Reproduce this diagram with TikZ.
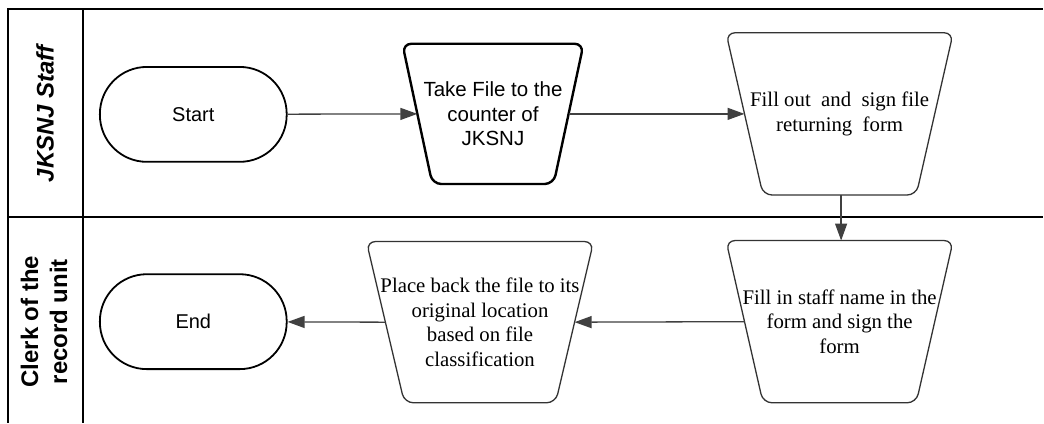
\documentclass[tikz,border=0pt]{standalone}
\usepackage{fontspec}
\setmainfont{Liberation Serif}
\setsansfont{Liberation Sans}
\usetikzlibrary{arrows.meta}

% outline of a downward-narrowing process box: node name, inset of the lower corners, style
\newcommand\procoutline[3]{%
  \draw[#3] (#1.north west) -- (#1.north east)
    -- ([xshift=-#2]#1.south east) -- ([xshift=#2]#1.south west) -- cycle;}

\begin{document}
\begin{tikzpicture}[x=1pt,y=-1pt,
  lane/.style={line width=2.2pt,black},
  term/.style={draw=black,line width=1.8pt,rectangle,rounded corners=47pt,
    minimum width=187pt,minimum height=95pt,
    font=\sffamily\fontsize{20}{24}\selectfont},
  procbox/.style={rectangle,minimum width=227pt,minimum height=162pt,
    align=center,inner sep=0pt,font=\rmfamily\fontsize{20.8}{24.5}\selectfont},
  firstbox/.style={procbox,minimum width=181pt,minimum height=140pt,
    font=\sffamily\fontsize{20.5}{24.5}\selectfont},
  procline/.style={draw=black!80,line width=1.3pt,rounded corners=9pt},
  firstline/.style={draw=black,line width=2.4pt,rounded corners=9pt},
  flow/.style={draw=black!75,line width=1.3pt,-{Triangle[length=17pt,width=12pt]}},
  lanetitle/.style={rotate=90,align=center,font=\sffamily\bfseries\fontsize{24}{29}\selectfont}
]
% canvas
\fill[white] (0,0) rectangle (1044,423);

% swimlane frame
\draw[lane] (1044,9) -- (8,9) -- (8,423);
\draw[lane] (83,9) -- (83,423);
\draw[lane] (8,217) -- (1044,217);

% lane titles
\node[lanetitle] (laneA) at (45,114) {\itshape JKSNJ Staff};
\node[lanetitle] (laneB) at (44,322) {Clerk of the\\record unit};

% steps
\node[term] (start) at (193.5,114.5) {Start};
\node[firstbox] (take) at (493.5,114) {Take File to the\\counter of\\JKSNJ};
\node[procbox] (fillout) at (840.5,114) {Fill out\ \ and\ \ sign file\\returning\ \ form};
\node[procbox] (fillin) at (840.5,322) {Fill in staff name in the\\form and sign the\\form};
\node[procbox,minimum height=161pt] (place) at (480.5,322.5) {Place back the file to its\\original location\\based on file\\classification};
\node[term] (end) at (193.5,322) {End};

\procoutline{take}{30pt}{firstline}
\procoutline{fillout}{37pt}{procline}
\procoutline{fillin}{37pt}{procline}
\procoutline{place}{38pt}{procline}

% connectors, ending on the slanted sides at mid height
\draw[flow] (start) -- ([xshift=15pt]take.west);
\draw[flow] ([xshift=-15pt]take.east) -- ([xshift=18.5pt]fillout.west);
\draw[flow] ([xshift=1.5pt]fillout.south) -- ([xshift=1.5pt]fillin.north);
\draw[flow] ([xshift=18.5pt]fillin.west) -- ([xshift=-19pt]place.east);
\draw[flow] ([xshift=19pt]place.west) -- (end);
\end{tikzpicture}
\end{document}
